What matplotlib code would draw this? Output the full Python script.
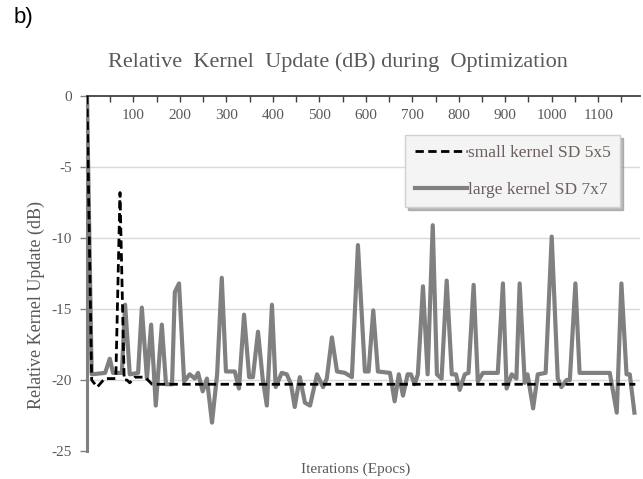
import matplotlib.pyplot as plt

# values (iterations, dB)
small_iter = [0, 10, 22, 38, 62, 71, 80, 86, 92, 103, 125, 140, 1180]
small_db = [0, -20.0, -20.5, -19.9, -19.9, -6.8, -20.0, -20.0, -20.2, -19.8, -19.8, -20.3, -20.3]

large_iter = [0, 10, 39, 49, 56, 75, 82, 92, 110, 118, 129, 138, 148, 161, 170, 183,
              189, 198, 209, 221, 232, 239, 249, 258, 269, 280, 290, 299, 318, 327,
              338, 349, 357, 368, 378, 387, 398, 406, 419, 430, 439, 447, 458, 469,
              480, 495, 508, 516, 527, 538, 555, 570, 583, 598, 606, 616, 626, 652,
              662, 671, 680, 690, 697, 705, 712, 723, 733, 744, 753, 763, 774, 785,
              794, 802, 813, 821, 832, 841, 852, 884, 895, 903, 914, 924, 931, 942,
              948, 960, 970, 987, 1000, 1013, 1021, 1032, 1039, 1051, 1060, 1125,
              1140, 1150, 1161, 1168, 1178]
large_db = [0, -19.6, -19.5, -18.5, -19.5, -19.5, -14.7, -19.6, -19.5, -14.9, -19.9,
            -16.1, -21.8, -16.1, -20.3, -20.3, -13.8, -13.2, -20.1, -19.6, -19.9,
            -19.5, -20.8, -19.9, -23.0, -19.6, -12.8, -19.4, -19.4, -20.6, -15.4,
            -19.8, -19.8, -16.6, -19.9, -21.8, -14.7, -20.5, -19.5, -19.6, -20.3,
            -21.9, -19.8, -21.6, -21.8, -19.6, -20.5, -19.9, -17.0, -19.4, -19.5,
            -19.8, -10.5, -19.4, -19.4, -15.1, -19.4, -19.5, -21.5, -19.6, -21.1,
            -19.6, -19.6, -20.3, -19.6, -13.4, -19.6, -9.1, -19.6, -19.9, -13.0,
            -19.6, -19.6, -20.7, -19.6, -19.5, -13.3, -20.1, -19.5, -19.5, -13.2,
            -20.6, -19.6, -19.9, -13.2, -20.2, -19.6, -22.0, -19.6, -19.5, -9.9,
            -19.9, -20.5, -20.0, -20.0, -13.2, -19.5, -19.5, -22.3, -13.2, -19.6,
            -19.6, -22.3]

x_ticks = [100, 200, 300, 400, 500, 600, 700, 800, 900, 1000, 1100]
y_ticks = [0, -5, -10, -15, -20, -25]
grid_vals = [-5, -10, -15, -20]

plt.rcParams['font.family'] = 'Liberation Serif'
plt.rcParams['axes.unicode_minus'] = False
txt = '#595959'

fig = plt.figure(figsize=(6.43, 4.79), dpi=100)
ax = fig.add_axes([87/643, 1-451/479, 553/643, 355/479])

for g in grid_vals:
    ax.axhline(g, color='#d9d9d9', lw=1, zorder=0)

ax.plot(large_iter, large_db, color='#808080', lw=3, label='large kernel SD 7x7', zorder=2)
ax.plot(small_iter, small_db, color='black', lw=2, ls=(0, (3, 1.6)), label='small kernel SD 5x5', zorder=3)

ax.set_xlim(0, 1190)
ax.set_ylim(-25, 0)
ax.spines['top'].set_visible(False)
ax.spines['right'].set_visible(False)
ax.spines['bottom'].set_position(('data', 0))
ax.spines['bottom'].set_color('#404040')
ax.spines['bottom'].set_linewidth(1.3)
ax.spines['left'].set_color('#808080')
ax.spines['left'].set_linewidth(2.2)

ax.set_xticks(x_ticks)
ax.set_xticks([t - 50 for t in x_ticks] + [1150], minor=True)
ax.set_yticks(y_ticks)
ax.tick_params(axis='x', which='both', direction='out', length=4, width=1, color='#404040',
               labelsize=11, labelcolor=txt, pad=5)
ax.tick_params(axis='y', direction='out', length=5, width=1, color='#808080',
               labelsize=11, labelcolor=txt, pad=6)

ax.set_xlabel('Iterations (Epocs)', fontsize=11, color=txt)
ax.xaxis.set_label_coords(0.486, -0.032)
ax.set_ylabel('Relative Kernel Update (dB)', fontsize=13, color=txt)
ax.yaxis.set_label_coords(-0.076, 0.41)

fig.text(338/643, 1-62/479, 'Relative  Kernel  Update (dB) during  Optimization',
         ha='center', va='center', fontsize=16, color=txt)
fig.text(14/643, 1-18/479, 'b)', ha='left', va='center', fontsize=16,
         family='Liberation Sans', color='black')

handles, labels = ax.get_legend_handles_labels()
leg = ax.legend(handles[::-1], labels[::-1], loc='upper right', bbox_to_anchor=(0.964, 0.89),
                fontsize=12.5, handlelength=3.0, handletextpad=0.05, labelspacing=1.2,
                frameon=True, fancybox=False, shadow={'color': '0.55', 'alpha': 0.6},
                borderpad=0.55, borderaxespad=0)
leg.get_frame().set_facecolor('#f4f4f4')
leg.get_frame().set_edgecolor('#d0d0d0')
for t in leg.get_texts():
    t.set_color('#6a5f5c')

fig.savefig('out.png', dpi=100)
